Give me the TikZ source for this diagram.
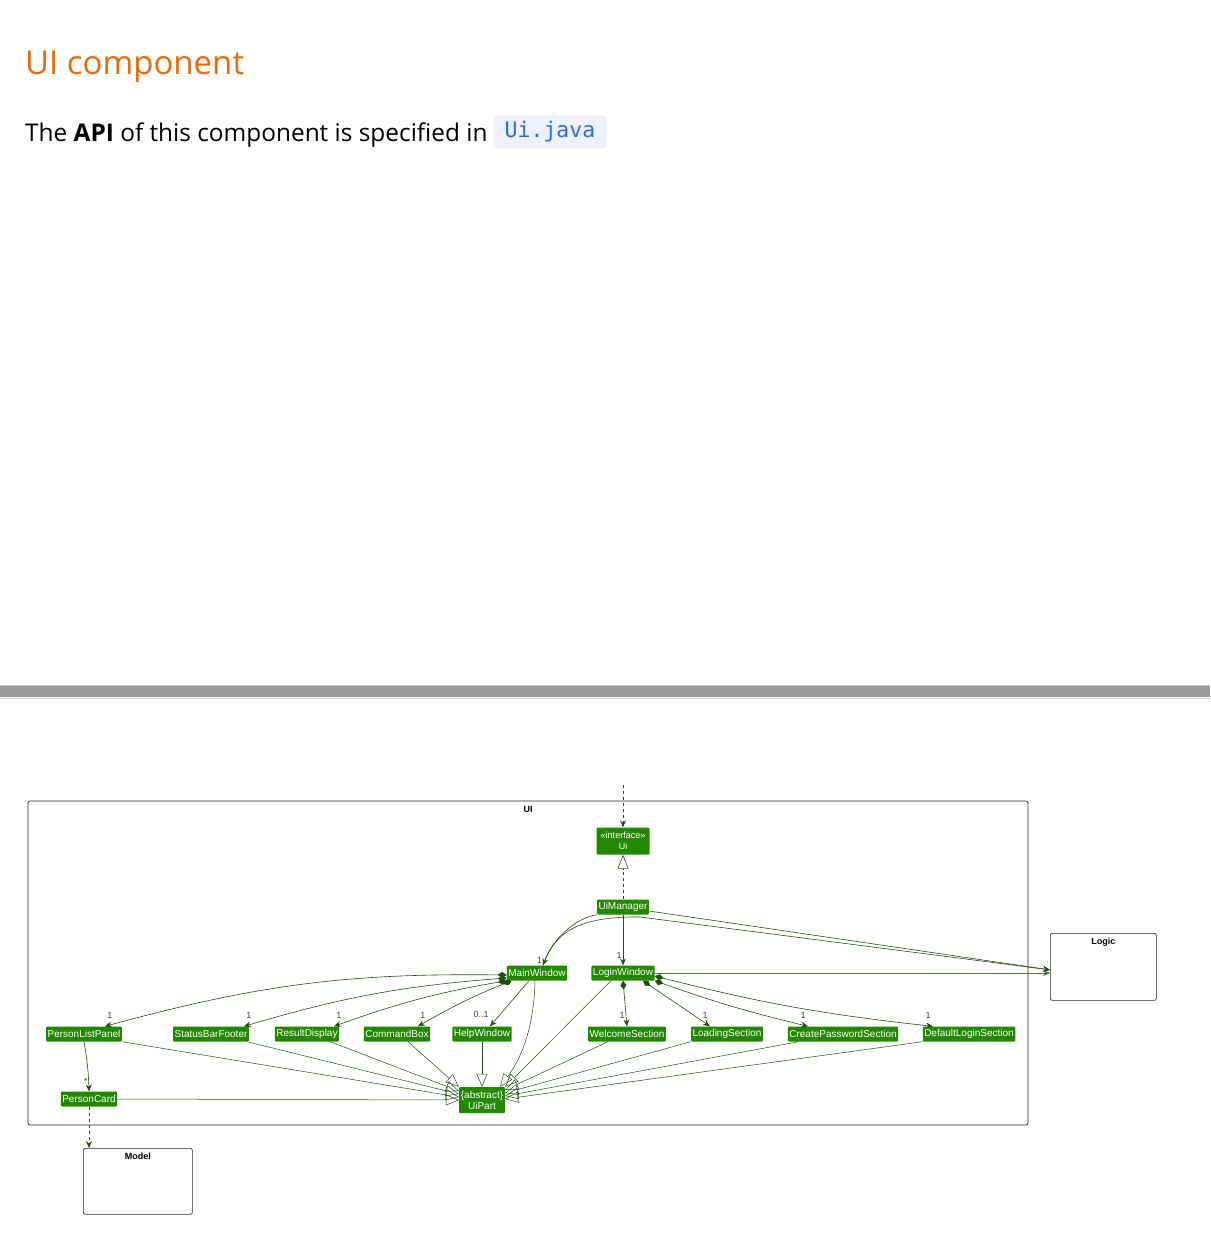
\documentclass[tikz,border=0pt]{standalone}
\usepackage{fontspec}
\setmainfont{Open Sans}
\setmonofont{DejaVu Sans Mono}
\newfontfamily\umlfont{Liberation Sans}
\usetikzlibrary{arrows.meta,positioning,calc}
\definecolor{heading}{RGB}{228,108,10}
\definecolor{codeblue}{RGB}{43,108,222}
\definecolor{codebg}{RGB}{238,240,252}
\definecolor{codeline}{RGB}{218,222,240}
\definecolor{umlgreen}{RGB}{34,136,0}
\definecolor{umlline}{RGB}{30,80,15}
\definecolor{rulegray}{RGB}{153,153,153}

\tikzset{
  cls/.style={fill=umlgreen,text=white,rounded corners=1pt,inner sep=1.5pt,minimum height=15pt,
    font=\umlfont\fontsize{10}{11}\selectfont,align=center},
  pkg/.style={draw=black!85,rounded corners=2pt,line width=0.7pt},
  pkgtitle/.style={font=\umlfont\bfseries\fontsize{9}{10}\selectfont,inner sep=0pt},
  tip/.style={-{Stealth[length=7pt,width=6pt,inset=2.5pt]}},
  assoc/.style={draw=umlline,line width=0.6pt,tip},
  comp/.style={draw=umlline,line width=0.6pt,{Diamond[length=9pt,width=6pt]}-{Stealth[length=7pt,width=6pt,inset=2.5pt]}},
  inherit/.style={draw=umlline,line width=0.5pt,-{Triangle[open,length=13pt,width=11pt]}},
  depend/.style={assoc,dashed},
  mult/.style={font=\umlfont\fontsize{9}{10}\selectfont,text=black!75,inner sep=1pt},
}

\begin{document}
\begin{tikzpicture}[x=1pt,y=-1pt]
  \useasboundingbox (0,0) rectangle (1210,1244);

  % page text
  \node[anchor=base west,inner sep=0pt,text=heading,font=\fontsize{33}{40}\selectfont] (title) at (25,75) {UI component};
  \node[anchor=base west,inner sep=0pt,font=\fontsize{24.4}{28}\selectfont] (api) at (25,141) {The \textbf{API} of this component is specified in};
  \node[draw=codeline,fill=codebg,rounded corners=3pt,text=codeblue,inner sep=0pt,
    minimum width=112pt,minimum height=32pt,font=\ttfamily\fontsize{21.5}{24}\selectfont] (code) at (550,132) {Ui.java};

  % separator
  \fill[rulegray] (0,686) rectangle (1210,697);
  \draw[black!20] (0,685) -- (1210,685) (0,698) -- (1210,698);

  % packages
  \draw[pkg] (28,801) rectangle (1028,1125);
  \node[pkgtitle] (uititle) at (528,809) {UI};
  \node[pkg,minimum width=106pt,minimum height=67pt,anchor=north west] (logic) at (1050,933) {};
  \node[pkgtitle,below=5pt of logic.north] (logictitle) {Logic};
  \node[pkg,minimum width=109pt,minimum height=66pt,anchor=north west] (model) at (83,1148) {};
  \node[pkgtitle,below=5pt of model.north] (modeltitle) {Model};

  % classes
  \node[cls,minimum width=53pt,minimum height=27pt,font=\umlfont\fontsize{9}{10.5}\selectfont] (ui) at (623,841) {«interface»\\Ui};
  \node[cls] (um) at (623,907) {UiManager};
  \node[cls] (mw) at (537,973) {MainWindow};
  \node[cls] (lw) at (623,973) {LoginWindow};
  \foreach \x/\n/\t in {84/plp/PersonListPanel,211/sbf/StatusBarFooter,307/rd/ResultDisplay,
    397/cb/CommandBox,482/hw/HelpWindow,627/ws/WelcomeSection,727/ls/LoadingSection,
    843/cps/CreatePasswordSection,969/dls/DefaultLoginSection}
    \node[cls] (\n) at (\x,1034) {\t};
  \node[cls] (pc) at (89,1099) {PersonCard};
  \node[cls,minimum width=46pt,minimum height=26pt] (up) at (482,1100) {\{abstract\}\\UiPart};

  % Ui and UiManager
  \coordinate (ext) at (623,785);
  \draw[depend] (ext) -- (ui.north);
  \draw[draw=umlline,line width=0.6pt,dashed,-{Triangle[open,length=14pt,width=11pt]}] (um.north) -- (ui.south);
  \draw[assoc] (um.south) -- node[mult,pos=0.8,left] {1} (lw.north);
  \draw[assoc] (um.south west) .. controls (575,918) and (552,940) .. node[mult,pos=0.93,left=2pt] {1} ([xshift=6pt]mw.north);

  % dependencies on Logic
  \draw[assoc] ([yshift=-4pt]um.east) -- ([yshift=-3pt]logic.west);
  \draw[assoc] ([xshift=6pt]mw.north) .. controls (553,938) and (570,916) .. (640,917) -- ([yshift=-3pt]logic.west);
  \draw[assoc,draw=umlline!80] (lw.east) -- (lw.east -| logic.west);

  % MainWindow parts
  \foreach \a/\sx/\sy/\n/\d/\b in {west/0/-2/plp/21/8,west/0/-5/sbf/33/6,
    south west/0/0/rd/27/5,south west/5/0/cb/21/4}
    \draw[comp] ([xshift=\sx pt,yshift=\sy pt]mw.\a) to[bend right=\b]
      node[mult,pos=1,above right=7pt and 1pt] {1} ([xshift=\d pt]\n.north);
  \draw[assoc] ([xshift=-8pt]mw.south) -- node[mult,pos=1,above left=7pt and 0pt] {0..1} ([xshift=8pt]hw.north);

  % LoginWindow parts
  \foreach \a/\sx/\sy/\n/\d/\b in {south/0/0/ws/0/0,south/20/0/ls/-17/0,
    south east/0/0/cps/-35/-3,east/0/-3/dls/-36/-4}
    \draw[comp] ([xshift=\sx pt,yshift=\sy pt]lw.\a) to[bend left=\b]
      node[mult,pos=1,above left=7pt and 1pt] {1} ([xshift=\d pt]\n.north);

  % PersonListPanel and PersonCard
  \draw[assoc] (plp.south) to[bend left=4] node[mult,pos=0.82,left] {*} (pc.north);
  \draw[depend] (pc.south) -- (model.north -| pc.south);

  % UiPart generalisations
  \draw[inherit] (pc.east) -- (up.west);
  \foreach \n/\a/\sx/\t/\ty in {plp/south east/0/west/3,sbf/south east/-2/west/6,
    rd/south east/-9/west/9,cb/south/11/north west/0,hw/south/0/north/0,lw/south/-12/north east/0,
    ws/south/-19/east/10,ls/south west/0/east/7,cps/south west/11/east/4,dls/south west/0/east/1}
    \draw[inherit] ([xshift=\sx pt]\n.\a) -- ([yshift=\ty pt]up.\t);
  \draw[inherit] ([xshift=-2pt]mw.south) .. controls (534,1030) and (520,1060) .. ([xshift=-5pt]up.north east);
\end{tikzpicture}
\end{document}
